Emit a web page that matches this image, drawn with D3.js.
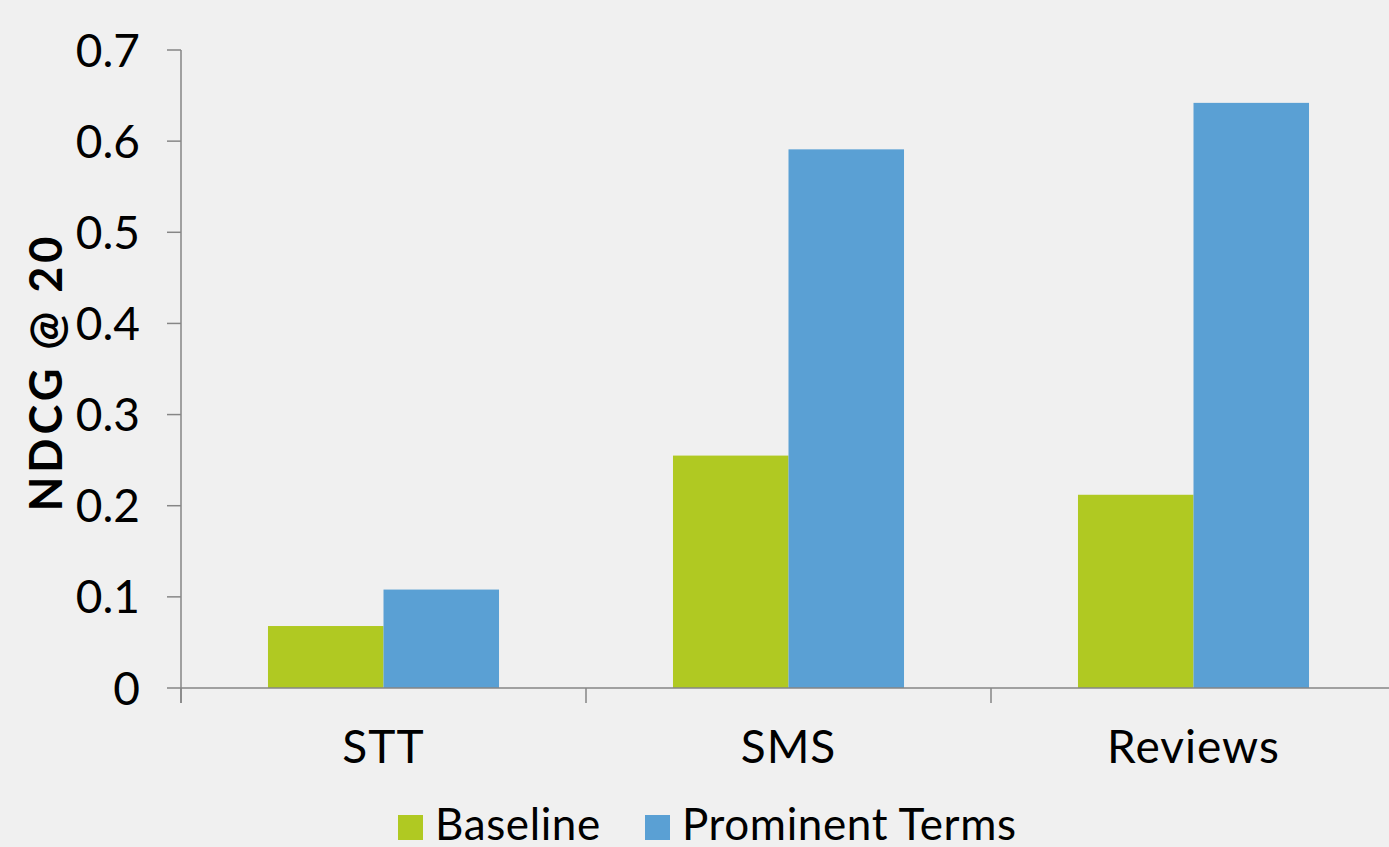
<!DOCTYPE html>
<html>
<head>
<meta charset="utf-8">
<script src="https://cdn.jsdelivr.net/npm/d3@7"></script>
<style>
body{margin:0;background:#f0f0f0;}
text{font-family:Lato,"Open Sans",sans-serif;fill:#000;}
.axisline{stroke:#868686;stroke-width:1.5;}
</style>
</head>
<body>
<script>
var categories=["STT","SMS","Reviews"];
var seriesNames=["Baseline","Prominent Terms"];
var baseline=[0.068,0.255,0.212];
var prominent=[0.108,0.591,0.642];
var yTicks=[0,0.1,0.2,0.3,0.4,0.5,0.6,0.7];
var colors=["#b0c922","#5aa0d4"];

var width=1389,height=847;
var plotLeft=181,plotTop=50,plotBottom=688,step=405;

var svg=d3.select("body").append("svg").attr("width",width).attr("height",height);
svg.append("rect").attr("width",width).attr("height",height).attr("fill","#f0f0f0");

var y=d3.scaleLinear().domain([0,0.7]).range([plotBottom,plotTop]);
var x=d3.scaleBand().domain(categories).range([plotLeft,plotLeft+step*categories.length]).padding(0);
var x1=d3.scaleBand().domain(seriesNames).range([0,x.bandwidth()]).paddingInner(0).paddingOuter(0.753);

var rows=categories.map(function(c,i){return {cat:c,vals:[baseline[i],prominent[i]]};});

var groups=svg.selectAll(".grp").data(rows).enter().append("g")
	.attr("transform",function(d){return "translate("+x(d.cat)+",0)";});
groups.selectAll("rect").data(function(d){
	return d.vals.map(function(v,j){return {name:seriesNames[j],v:v,j:j};});
}).enter().append("rect")
	.attr("x",function(d){return x1(d.name);})
	.attr("width",x1.bandwidth())
	.attr("y",function(d){return y(d.v);})
	.attr("height",function(d){return plotBottom-y(d.v);})
	.attr("fill",function(d){return colors[d.j];});

// y axis
svg.append("line").classed("axisline",true).attr("x1",plotLeft).attr("x2",plotLeft).attr("y1",plotTop).attr("y2",plotBottom+15);
svg.selectAll(".ytick").data(yTicks).enter().append("line").classed("axisline",true)
	.attr("x1",plotLeft-14).attr("x2",plotLeft)
	.attr("y1",function(d){return y(d);}).attr("y2",function(d){return y(d);});
svg.selectAll(".ylab").data(yTicks).enter().append("text")
	.attr("x",140).attr("y",function(d){return y(d);}).attr("dy","0.36em")
	.attr("text-anchor","end").style("font-size","46px")
	.text(function(d){return d===0?"0":d3.format(".1f")(d);});

// x axis
svg.append("line").classed("axisline",true).attr("x1",plotLeft).attr("x2",width).attr("y1",plotBottom).attr("y2",plotBottom);
svg.selectAll(".xtick").data(categories).enter().append("line").classed("axisline",true)
	.attr("x1",function(d){return x(d);}).attr("x2",function(d){return x(d);})
	.attr("y1",plotBottom).attr("y2",plotBottom+15);
svg.selectAll(".xlab").data(categories).enter().append("text")
	.attr("x",function(d){return x(d)+x.bandwidth()/2;}).attr("y",763)
	.attr("text-anchor","middle").style("font-size","46px").style("letter-spacing","1px")
	.text(function(d){return d;});

// y title
svg.append("text").attr("transform","translate(62,372) rotate(-90)")
	.attr("text-anchor","middle").style("font-size","45px").style("font-weight","bold")
	.style("letter-spacing","4px")
	.text("NDCG @ 20");

// legend
var legendX=[398,645];
var leg=svg.selectAll(".leg").data(seriesNames).enter().append("g")
	.attr("transform",function(d,i){return "translate("+legendX[i]+",815)";});
leg.append("rect").attr("width",25).attr("height",25).attr("fill",function(d,i){return colors[i];});
leg.append("text").attr("x",37).attr("y",25).style("font-size","44px").style("letter-spacing","0.6px")
	.text(function(d){return d;});
</script>
</body>
</html>
